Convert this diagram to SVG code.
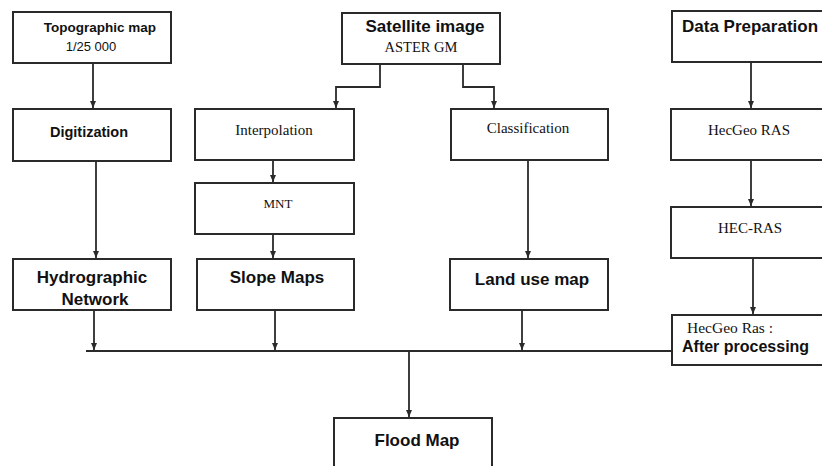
<svg xmlns="http://www.w3.org/2000/svg" width="822" height="466" viewBox="0 0 822 466">
<style>
.box{fill:#fff;stroke:#2a2a2a;stroke-width:2}
.ln{fill:none;stroke:#2a2a2a;stroke-width:1.8}
.b{font-family:"Liberation Sans",Arial,sans-serif;font-weight:bold;fill:#111}
.s{font-family:"Liberation Serif","Times New Roman",serif;fill:#111}
.r{font-family:"Liberation Sans",Arial,sans-serif;fill:#111}
</style>
<defs>
<marker id="a" markerUnits="userSpaceOnUse" markerWidth="8" markerHeight="8" refX="7" refY="3.5" orient="auto" viewBox="0 0 8 8">
<path d="M0,0.5 L7,3.5 L0,6.5 Z" fill="#2a2a2a"/>
</marker>
</defs>
<rect width="822" height="466" fill="#fff"/>
<g id="connectors">
<line class="ln" x1="93" y1="63" x2="93" y2="108" marker-end="url(#a)"/>
<line class="ln" x1="96" y1="161" x2="96" y2="258" marker-end="url(#a)"/>
<path class="ln" d="M380,64 V87 H336 V108" marker-end="url(#a)"/>
<path class="ln" d="M463,64 V87 H494 V108" marker-end="url(#a)"/>
<line class="ln" x1="273" y1="160" x2="273" y2="182" marker-end="url(#a)"/>
<line class="ln" x1="273" y1="234" x2="273" y2="258" marker-end="url(#a)"/>
<line class="ln" x1="528" y1="160" x2="528" y2="258" marker-end="url(#a)"/>
<line class="ln" x1="751" y1="62" x2="751" y2="108" marker-end="url(#a)"/>
<line class="ln" x1="751" y1="160" x2="751" y2="206" marker-end="url(#a)"/>
<line class="ln" x1="753" y1="258" x2="753" y2="314" marker-end="url(#a)"/>
<line class="ln" x1="94" y1="310" x2="94" y2="350" marker-end="url(#a)"/>
<line class="ln" x1="275" y1="310" x2="275" y2="350" marker-end="url(#a)"/>
<line class="ln" x1="522" y1="310" x2="522" y2="350" marker-end="url(#a)"/>
<line class="ln" x1="86" y1="351" x2="672" y2="351"/>
<line class="ln" x1="409" y1="351" x2="409" y2="417" marker-end="url(#a)"/>
</g>
<g id="topo">
<rect class="box" x="13" y="12" width="158" height="51"/>
<text class="b" x="100" y="32" font-size="13.5" text-anchor="middle">Topographic map</text>
<text class="r" x="91" y="51" font-size="13" text-anchor="middle">1/25 000</text>
</g>
<g id="digit">
<rect class="box" x="13" y="109" width="158" height="52"/>
<text class="b" x="89" y="137" font-size="14.5" text-anchor="middle">Digitization</text>
</g>
<g id="hydro">
<rect class="box" x="13" y="259" width="158" height="51"/>
<text class="b" x="92" y="283" font-size="17" text-anchor="middle">Hydrographic</text>
<text class="b" x="95" y="305" font-size="17" text-anchor="middle">Network</text>
</g>
<g id="sat">
<rect class="box" x="342" y="13" width="158" height="51"/>
<text class="b" x="425" y="32" font-size="17" text-anchor="middle">Satellite image</text>
<text class="s" x="421" y="52" font-size="14.5" text-anchor="middle">ASTER GM</text>
</g>
<g id="interp">
<rect class="box" x="195" y="109" width="159" height="51"/>
<text class="s" x="274" y="135" font-size="15" text-anchor="middle">Interpolation</text>
</g>
<g id="mnt">
<rect class="box" x="195" y="183" width="159" height="51"/>
<text class="s" x="278" y="208" font-size="13" text-anchor="middle">MNT</text>
</g>
<g id="slope">
<rect class="box" x="197" y="259" width="157" height="51"/>
<text class="b" x="277" y="283" font-size="17" text-anchor="middle">Slope Maps</text>
</g>
<g id="class">
<rect class="box" x="451" y="109" width="157" height="51"/>
<text class="s" x="528" y="133" font-size="15" text-anchor="middle">Classification</text>
</g>
<g id="landuse">
<rect class="box" x="450" y="259" width="158" height="51"/>
<text class="b" x="532" y="285" font-size="17" text-anchor="middle">Land use map</text>
</g>
<g id="dataprep">
<rect class="box" x="672" y="11" width="160" height="51"/>
<text class="b" x="682" y="32" font-size="17">Data Preparation</text>
</g>
<g id="hecgeo">
<rect class="box" x="671" y="109" width="160" height="51"/>
<text class="s" x="749" y="135" font-size="15" text-anchor="middle">HecGeo RAS</text>
</g>
<g id="hecras">
<rect class="box" x="671" y="207" width="160" height="51"/>
<text class="s" x="750" y="233" font-size="15" text-anchor="middle">HEC-RAS</text>
</g>
<g id="after">
<rect class="box" x="672" y="315" width="160" height="50"/>
<text class="s" x="687" y="333" font-size="15.5">HecGeo Ras :</text>
<text class="b" x="682" y="352" font-size="16">After processing</text>
</g>
<g id="flood">
<rect class="box" x="334" y="418" width="158" height="60"/>
<text class="b" x="417" y="446" font-size="17" text-anchor="middle">Flood Map</text>
</g>
</svg>
